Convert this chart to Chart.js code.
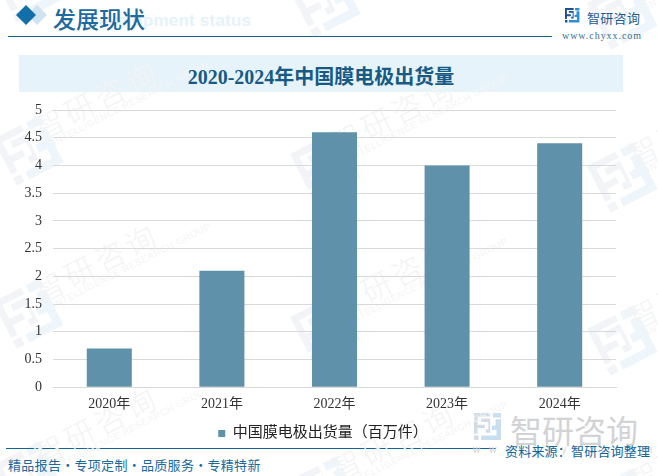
<!DOCTYPE html>
<html><head><meta charset="utf-8">
<script src="https://cdn.jsdelivr.net/npm/chart.js@4/dist/chart.umd.min.js"></script>
<style>
html,body{margin:0;padding:0;background:#fff;overflow:hidden}
#root{position:relative;width:658px;height:476px;overflow:hidden;background:#fff}
#root>*{position:absolute}
.t{white-space:nowrap;line-height:1}
.wm{white-space:nowrap;line-height:1;color:#f3f4f5;font:300 30px "Noto Sans CJK SC";letter-spacing:4px;transform:rotate(-27deg);transform-origin:0 100%}
.wm small{position:absolute;left:10px;top:36px;font:9.5px "Liberation Sans";letter-spacing:.55px;color:#f4f5f6}
canvas{left:0;top:0}
</style></head><body>
<div id="root">
<svg id="marks" style="left:0;top:0" width="658" height="476"></svg>
<div class="t" style="left:86px;top:11px;font:bold 17px 'Liberation Sans';color:#e6f2fa;letter-spacing:.2px">Development status</div>
<div class="t" style="left:53px;top:1px;font:500 23px 'Noto Sans CJK SC';color:#1c6a9e">发展现状</div>
<div class="t" style="left:587px;top:8px;font:13px 'Noto Sans CJK SC';color:#1d5c92;letter-spacing:.3px">智研咨询</div>
<div class="t" style="left:562px;top:30px;font:10px 'Liberation Serif';color:#3e6d8e;letter-spacing:.95px">www.chyxx.com</div>
<div class="t" style="left:19px;top:61px;width:604px;text-align:center;font:bold 20px 'Liberation Serif','Noto Sans CJK SC';color:#175a86">2020-2024年中国膜电极出货量</div>
<div class="t" style="left:510px;top:406px;font:32px 'Noto Sans CJK SC';color:#d2d3d5">智研咨询</div>
<div class="t" style="left:473px;top:444px;font:10px 'Liberation Sans';color:#d2d3d5;letter-spacing:9px">www.chyxx.com</div>
<div class="t" style="left:505px;top:441px;font:13px 'Noto Sans CJK SC';color:#11679b;letter-spacing:.2px">资料来源：智研咨询整理</div>
<div class="t" style="left:8px;top:455px;font:13px 'Noto Sans CJK SC';color:#1a6a9c;letter-spacing:.3px">精品报告·专项定制·品质服务·专精特新</div>
<canvas id="c" width="658" height="476" style="width:658px;height:476px"></canvas>
</div>
<script>
const categories = ["2020年","2021年","2022年","2023年","2024年"];
const seriesName = "中国膜电极出货量（百万件）";
const values = [0.7, 2.1, 4.6, 4.0, 4.4];
const tickLabels = ["0","0.5","1","1.5","2","2.5","3","3.5","4","4.5","5"];
const tickFont = {family:"'Liberation Serif','Noto Sans CJK SC'", size:14};

// decorative page furniture (watermark tiles, header, logos)
const logo=(x,y,s,rot,a,b)=>`<g transform="translate(${x} ${y}) rotate(${rot}) scale(${s})">
<path fill="${a}" d="M0 0H18V4H4V13H12V17H4V23H0ZM8 6H18V22H13V18H16V10H8ZM0 25H5V30H0Z"/>
<path fill="${b}" d="M21 0H30V5H21ZM24 7H30V30H8V25H25V19H20V14H24Z"/></g>`;
let h="";
const cols=[[45,0],[342,15],[639,27]];
const rows=[-46,117,280,443];
for(const [cx,dy] of cols)for(const ry of rows){
  h+=logo(cx-52,ry+dy+22,1.75,-27,"#f2f4f8","#eef6fc");
}
h+=`<polygon points="37,5 47,15 37,25 27,15" fill="#cfe3f0"/>
<polygon points="26,5 36,15 26,25 16,15" fill="#136fa9"/>
<rect x="8" y="36" width="544" height="1" fill="#126293"/>
<rect x="19" y="55" width="604" height="37" fill="#e7f3fb"/>
<rect x="6" y="448" width="490" height="1" fill="#126293"/>`;
h+=logo(565,8,.48,0,"#1d4f91","#2a8fd4");
h+=logo(474,413,.9,0,"#d3dae8","#c8dff0");
document.getElementById("marks").innerHTML=h;
const root=document.getElementById("root"),mk=document.getElementById("marks");
for(const [cx,dy] of cols)for(const ry of rows){
  const d=document.createElement("div");d.className="wm";
  d.style.left=cx+"px";d.style.top=(ry+dy-12)+"px";
  d.innerHTML='智研咨询<small>INTELLIGENCE RESEARCH GROUP</small>';
  root.insertBefore(d,mk.nextSibling);
}

new Chart(document.getElementById("c"),{
  type:"bar",
  data:{labels:categories,datasets:[{label:seriesName,data:values,backgroundColor:"#5f92aa",barPercentage:0.4,categoryPercentage:1}]},
  plugins:[{id:"unclipY",afterLayout(chart){chart.scales.y.left=0}}],
  options:{
    responsive:false,animation:false,devicePixelRatio:1,
    layout:{padding:{left:30,right:42,top:110,bottom:25}},
    plugins:{
      tooltip:{enabled:false},
      legend:{position:"bottom",labels:{usePointStyle:true,pointStyle:"rect",boxWidth:7,boxHeight:7,color:"#222",padding:10,font:{family:"'Liberation Serif','Noto Sans CJK SC'",size:15}}}
    },
    scales:{
      x:{afterFit(s){s.height+=2},grid:{display:false},border:{color:"#d9d9d9"},ticks:{color:"#333",padding:1,maxRotation:0,font:tickFont}},
      y:{min:0,max:5,afterFit(s){s.width=23},border:{display:false},
         grid:{color:"#d9d9d9",tickLength:0},
         ticks:{stepSize:0.5,color:"#333",padding:11,font:tickFont,callback:(v,i)=>tickLabels[i]}}
    }
  }
});
</script>
</body></html>
